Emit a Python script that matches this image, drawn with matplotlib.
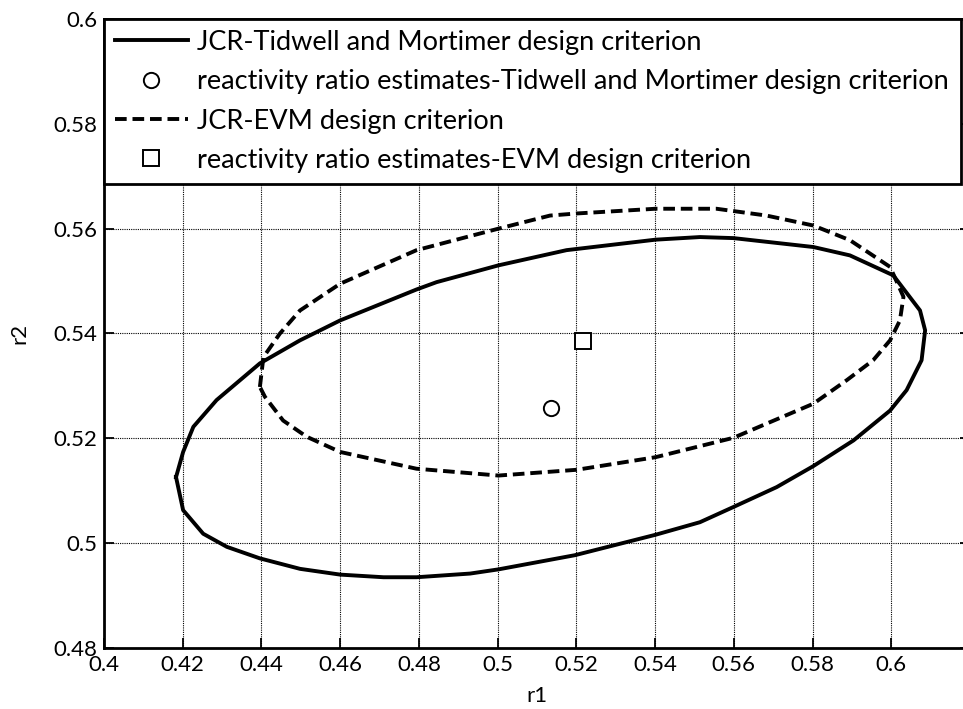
import numpy as np
import matplotlib
matplotlib.use('Agg')
import matplotlib.pyplot as plt

plt.rcParams['font.family'] = ['Lato', 'DejaVu Sans']

# joint confidence region, Tidwell and Mortimer design (r1, r2)
tm_r1 = [0.4183, 0.4201, 0.4227, 0.4286, 0.4396, 0.4498, 0.4600, 0.4794, 0.4845,
         0.5002, 0.5175, 0.5401, 0.5514, 0.5599, 0.5802, 0.5895, 0.6005, 0.6073,
         0.6086, 0.6077, 0.6039, 0.5997, 0.5904, 0.5802, 0.5709, 0.5599, 0.5514,
         0.5401, 0.5196, 0.5002, 0.4930, 0.4794, 0.4710, 0.4600, 0.4498, 0.4396,
         0.4312, 0.4252, 0.4201, 0.4183]
tm_r2 = [0.5126, 0.5174, 0.5222, 0.5273, 0.5343, 0.5387, 0.5425, 0.5484, 0.5498,
         0.5530, 0.5559, 0.5579, 0.5584, 0.5582, 0.5565, 0.5549, 0.5511, 0.5444,
         0.5406, 0.5349, 0.5292, 0.5253, 0.5196, 0.5147, 0.5107, 0.5069, 0.5040,
         0.5016, 0.4977, 0.4950, 0.4942, 0.4935, 0.4935, 0.4940, 0.4951, 0.4971,
         0.4993, 0.5018, 0.5063, 0.5126]

# joint confidence region, EVM design
evm_r1 = [0.4396, 0.4405, 0.4447, 0.4498, 0.4600, 0.4794, 0.5002, 0.5133, 0.5201,
          0.5401, 0.5556, 0.5683, 0.5802, 0.5895, 0.5997, 0.6031, 0.6022, 0.5997,
          0.5954, 0.5887, 0.5802, 0.5683, 0.5599, 0.5401, 0.5201, 0.5002, 0.4794,
          0.4600, 0.4515, 0.4455, 0.4409, 0.4396]
evm_r2 = [0.5298, 0.5355, 0.5400, 0.5444, 0.5495, 0.5559, 0.5600, 0.5625, 0.5629,
          0.5638, 0.5638, 0.5625, 0.5606, 0.5578, 0.5527, 0.5470, 0.5425, 0.5387,
          0.5349, 0.5311, 0.5266, 0.5228, 0.5201, 0.5164, 0.5140, 0.5129, 0.5142,
          0.5174, 0.5203, 0.5234, 0.5279, 0.5298]

# point estimates
tm_est = (0.5135, 0.5257)
evm_est = (0.5218, 0.5385)

xticks = [0.4, 0.42, 0.44, 0.46, 0.48, 0.5, 0.52, 0.54, 0.56, 0.58, 0.6]
yticks = [0.48, 0.5, 0.52, 0.54, 0.56, 0.58, 0.6]

fig = plt.figure(figsize=(9.63, 7.09), dpi=100)
ax = fig.add_axes([104/963, 61/709, 866/963, 629/709])

ax.plot(tm_r1, tm_r2, 'k-', lw=2.8,
        label='JCR-Tidwell and Mortimer design criterion')
ax.plot(*tm_est, 'ko', mfc='white', ms=11, mew=1.4, ls='none',
        label='reactivity ratio estimates-Tidwell and Mortimer design criterion')
ax.plot(evm_r1, evm_r2, 'k', lw=2.8, dashes=(3.0, 1.5),
        label='JCR-EVM design criterion')
ax.plot(*evm_est, 'ks', mfc='white', ms=11, mew=1.4, ls='none',
        label='reactivity ratio estimates-EVM design criterion')

ax.set_xlim(0.4, 0.62)
ax.set_ylim(0.48, 0.6)
ax.set_xticks(xticks)
ax.set_xticklabels(['%g' % v for v in xticks])
ax.set_yticks(yticks)
ax.set_yticklabels(['%g' % v for v in yticks])
ax.tick_params(direction='in', length=7, width=1.3, labelsize=16, pad=5,
               top=True, right=True)
ax.grid(True, color='black', lw=0.8, dashes=(1, 1))
ax.set_axisbelow(True)
for s in ax.spines.values():
    s.set_linewidth(2)

ax.set_xlabel('r1', fontsize=16, labelpad=8)
ax.set_ylabel('r2', fontsize=16, labelpad=17)

leg = ax.legend(loc='upper left', bbox_to_anchor=(104/963, 1 - 183/709, 857/963, 164/709),
                bbox_transform=fig.transFigure, mode='expand', borderaxespad=0,
                fontsize=19.5, handlelength=2.7, handletextpad=0.35, labelspacing=0.53,
                borderpad=0.4, fancybox=False, framealpha=1, edgecolor='black')
leg.get_frame().set_linewidth(2)

fig.savefig('out.png', dpi=100)
